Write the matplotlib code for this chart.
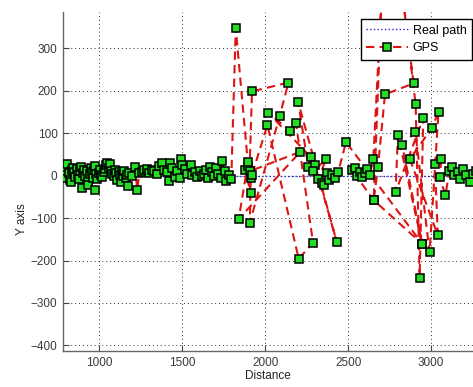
import matplotlib
matplotlib.use("Agg")
import matplotlib.pyplot as plt

plt.rcParams['font.family'] = ['Liberation Sans', 'DejaVu Sans']

# Tick labels
x_ticks = [1000, 1500, 2000, 2500, 3000]
y_ticks = [-400, -300, -200, -100, 0, 100, 200, 300]

# Real path
real_x = [780, 3300]
real_y = [0, 0]

# GPS measurements (in acquisition order)
gps_left_x = [782, 790, 800, 806, 815, 820, 826, 833, 840, 848, 855, 862, 870, 878, 885,
              889, 893, 900, 908, 915, 922, 930, 933, 940, 948, 955, 962, 968, 973, 973,
              980, 988, 995, 1003, 1010, 1018, 1025, 1032, 1040, 1048, 1055, 1063, 1070,
              1078, 1085, 1093, 1100, 1108, 1115, 1122, 1128, 1135, 1143, 1150, 1158, 1165,
              1173, 1180, 1195, 1214, 1228, 1240, 1255, 1270, 1284, 1300, 1315, 1330, 1345,
              1360, 1378, 1390, 1405, 1419, 1425, 1440, 1455, 1470, 1489, 1485, 1500, 1515,
              1530, 1551, 1560, 1575, 1590, 1605, 1618, 1630, 1645, 1655, 1666, 1680, 1690,
              1702, 1715, 1730, 1742, 1755, 1766, 1780, 1795]
gps_left_y = [-5, 10, 20, 27, 5, -10, -16, 12, 18, 8, -4, 15, 2, -8, 10,
              20, -29, 6, 14, -2, 10, -12, -22, 4, 18, 8, -6, 12, -34, 22,
              3, -8, 6, 12, 2, -4, 8, 16, 25, 30, 18, 27, 10,
              4, -2, 12, 6, -10, 8, 2, -14, 4, -2, 10, -6, 2,
              -24, 5, 0, 20, -34, 5, 8, 12, 16, 6, 14, 10, 4,
              22, 30, 14, 8, -12, 30, 18, -4, 10, 40, -6, 26, 16,
              4, 24, 2, 8, -4, 10, -2, 4, 14, -6, 21, 8, -2,
              17, 4, -6, 34, 10, -13, 2, -8]

gps_right_x = [1822, 1911, 1880, 1895, 1897, 1840, 2212, 1905, 1920, 2140, 2087, 1907,
               1912, 1920, 2013, 2202, 2288, 2185, 2149, 2019, 2276, 2260, 2198, 2431,
               2300, 2290, 2366, 2320, 2340, 2355, 2370, 2385, 2400, 2420, 2440, 2487,
               2947, 2654, 2525, 2540, 2555, 2570, 2585, 2600, 2615, 2630, 2652, 2705,
               2654, 2680, 2722, 2895, 2820, 2907, 2931, 2953, 2786, 2800, 2947, 2826,
               2905, 2991, 3045, 3007, 2872, 3041, 3023, 3063, 3051, 3087, 3110, 3127,
               3140, 3160, 3175, 3190, 3210, 3232, 3250, 3270]
gps_right_y = [347, -40, 12, 22, 33, -102, 56, 10, 198, 219, 140, -111,
               -5, 2, 119, -196, -158, 124, 106, 147, 43, 20, 174, -156,
               25, 10, 38, -8, -18, -22, 5, -10, 2, -5, 8, 79,
               -161, -58, 12, 18, -2, 8, -4, 6, 16, 2, 40, 450,
               -58, 20, 191, 217, 450, 168, -240, 135, -39, 96, -161, 71,
               103, -181, 150, 113, 39, -141, 28, 39, -4, -46, 10, 20,
               2, 8, -8, 16, 2, -16, 4, 10]

gps_x = gps_left_x + gps_right_x
gps_y = gps_left_y + gps_right_y

W, H = 473, 387
fig = plt.figure(figsize=(W / 100, H / 100), dpi=100)
left, right, top, bottom = 63, 473, 12, 351
ax = fig.add_axes([left / W, 1 - bottom / H, (right - left) / W, (bottom - top) / H])

ax.plot(real_x, real_y, linestyle=':', color='#2a2ad0', linewidth=1.0, label='Real path', zorder=2)
ax.plot(gps_x, gps_y, linestyle='--', dashes=(4, 2.5), color='#dd1515', linewidth=1.5,
        marker='s', markersize=5.3, markerfacecolor='#22dd22', markeredgecolor='black',
        markeredgewidth=1.1, label='GPS', zorder=3)

ax.set_xlim(780, 3253)
ax.set_ylim(-413, 385)
ax.set_xticks(x_ticks)
ax.set_yticks(y_ticks)
ax.grid(True, linestyle=(0, (1, 3)), color='#333333', linewidth=0.7)
ax.set_axisbelow(True)

for s in ['top', 'right']:
    ax.spines[s].set_visible(False)
for s in ['left', 'bottom']:
    ax.spines[s].set_color('#666666')
    ax.spines[s].set_linewidth(1.0)

ax.tick_params(direction='in', length=4, labelsize=8.5, colors='#444444', labelcolor='#3a3a3a', pad=4)

ax.set_xlabel('Distance', fontsize=8.5, color='#222222', labelpad=1)
ax.set_ylabel('Y axis', fontsize=8.5, color='#222222')
ax.yaxis.set_label_coords(-0.085, 0.39)

leg = ax.legend(loc='upper right', bbox_to_anchor=(0.998, 0.979), borderaxespad=0,
                fontsize=9, fancybox=False, framealpha=1, edgecolor='black',
                handlelength=3.3, handletextpad=0.4, labelspacing=0.45, borderpad=0.45)
leg.get_frame().set_linewidth(1.0)

fig.savefig('out.png', dpi=100)
